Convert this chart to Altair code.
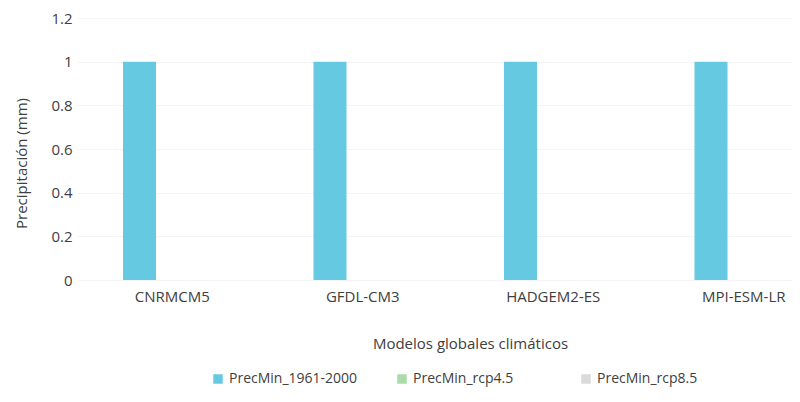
import altair as alt
import pandas as pd

models = ["CNRMCM5", "GFDL-CM3", "HADGEM2-ES", "MPI-ESM-LR"]
series = ["PrecMin_1961-2000", "PrecMin_rcp4.5", "PrecMin_rcp8.5"]
v_base = [1.0, 1.0, 1.0, 1.0]
v_rcp45 = [0.0, 0.0, 0.0, 0.0]
v_rcp85 = [0.0, 0.0, 0.0, 0.0]
colors = ["#66C9E2", "#A9DCA9", "#DADADA"]
y_ticks = [0, 0.2, 0.4, 0.6, 0.8, 1.0, 1.2]

rows = []
for vals, s in zip([v_base, v_rcp45, v_rcp85], series):
    for m, v in zip(models, vals):
        rows.append({"Modelo": m, "Serie": s, "Valor": v})
df = pd.DataFrame(rows)

FONT = "Open Sans"
TXT = "#404040"

chart = alt.Chart(df).mark_bar().encode(
    x=alt.X("Modelo:N", sort=models,
            scale=alt.Scale(range=[0, 762], paddingInner=0, paddingOuter=0),
            axis=alt.Axis(title="Modelos globales climáticos", labelAngle=0,
                          domain=False, ticks=False, labelPadding=9,
                          labelFontSize=15, labelFont=FONT, labelColor=TXT,
                          titleFontSize=15, titleFont=FONT, titleColor=TXT,
                          titleFontWeight="normal",
                          titleX=393, titleY=56, titleBaseline="top")),
    xOffset=alt.XOffset("Serie:N", sort=series,
                        scale=alt.Scale(range=[46, 145], paddingInner=0, paddingOuter=0)),
    y=alt.Y("Valor:Q", scale=alt.Scale(domain=[0, 1.2], nice=False),
            axis=alt.Axis(title="Precipitación (mm)", values=y_ticks, format="~g",
                          domain=False, ticks=False, labelPadding=5,
                          grid=True, gridColor="#f4f4f4",
                          labelFontSize=15, labelFont=FONT, labelColor=TXT,
                          titleFontSize=15, titleFont=FONT, titleColor=TXT,
                          titleFontWeight="normal",
                          titleX=-56, titleY=145, titleBaseline="middle")),
    color=alt.Color("Serie:N", sort=series,
                    scale=alt.Scale(domain=series, range=colors),
                    legend=alt.Legend(title=None, orient="none", direction="horizontal",
                                      columns=3, gridAlign="all",
                                      legendX=134, legendY=354,
                                      symbolType="square", symbolSize=90,
                                      symbolStrokeWidth=0, columnPadding=37,
                                      labelFontSize=14, labelFont=FONT,
                                      labelColor=TXT, labelOffset=4)),
).properties(
    width=715, height=262,
    autosize=alt.AutoSizeParams(type="none"),
    padding={"left": 69, "top": 10, "right": 0, "bottom": 112},
).configure_view(stroke=None)

chart.save("out.html", embed_options={"renderer": "svg", "actions": False})
